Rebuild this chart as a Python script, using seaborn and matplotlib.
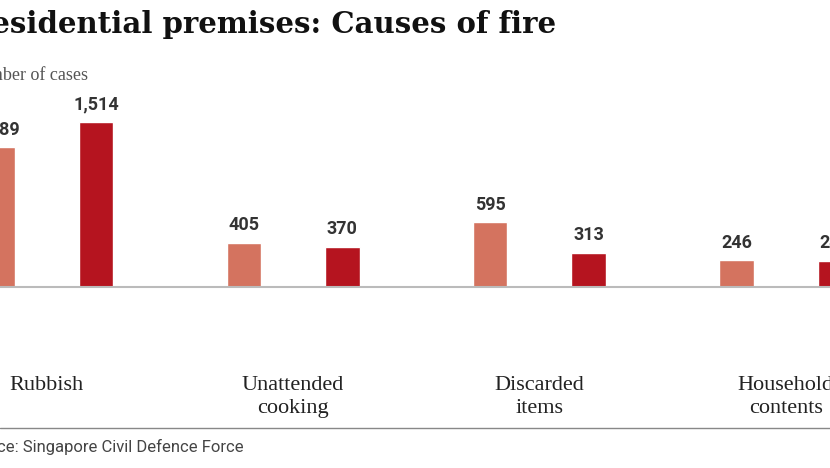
import matplotlib
matplotlib.use("Agg")
import matplotlib.pyplot as plt
import seaborn as sns
import pandas as pd

categories = ["Rubbish", "Unattended\ncooking", "Discarded\nitems", "Household\ncontents"]
series = ["Earlier", "Later"]
earlier = [1289, 405, 595, 246]
later = [1514, 370, 313, 241]

df = pd.DataFrame({
    "cause": categories * 2,
    "period": [series[0]] * 4 + [series[1]] * 4,
    "cases": earlier + later,
})

sns.set_theme(style="white")
fig = plt.figure(figsize=(8.3, 4.68), dpi=100)
ax = fig.add_axes([0, 0.387, 1, 0.506])
sns.barplot(data=df, x="cause", y="cases", hue="period", order=categories,
            hue_order=series, palette=["#d4735f", "#b5141f"], width=0.8, gap=0.65,
            legend=False, ax=ax, saturation=1)
ax.set_xlim(-0.19, 3.18)
ax.set_ylim(0, 2175)
for c in ax.containers:
    texts = ax.bar_label(c, labels=[f"{v:,.0f}" for v in c.datavalues], padding=6,
                         fontsize=13, fontweight="bold", color="#333333", family="Roboto")
    for t in texts:
        t.set_annotation_clip(False)
        t.set_clip_on(False)
for s in ["top", "right", "left"]:
    ax.spines[s].set_visible(False)
ax.spines["bottom"].set_color("#bbbbbb")
ax.spines["bottom"].set_linewidth(1.5)
ax.set_xlabel(""); ax.set_ylabel("")
ax.set_yticks([])
ax.set_xticks(range(4))
ax.set_xticklabels(categories, family="Liberation Serif", fontsize=16, color="#222222",
                   linespacing=1.3)
ax.tick_params(axis="x", length=0, pad=64)
fig.text(-0.04, 0.93, "Residential premises: Causes of fire", fontsize=21,
         fontweight="bold", family="DejaVu Serif", color="#111111", va="baseline")
fig.text(-0.04, 0.83, "Number of cases", fontsize=13, family="Liberation Serif",
         color="#555555", va="baseline")
fig.text(-0.045, 0.035, "Source: Singapore Civil Defence Force", fontsize=12,
         family="Roboto", color="#444444", va="baseline")
fig.add_artist(plt.Line2D([0, 1], [0.085, 0.085], color="#888888", lw=1))
fig.savefig("out.png", dpi=100)
